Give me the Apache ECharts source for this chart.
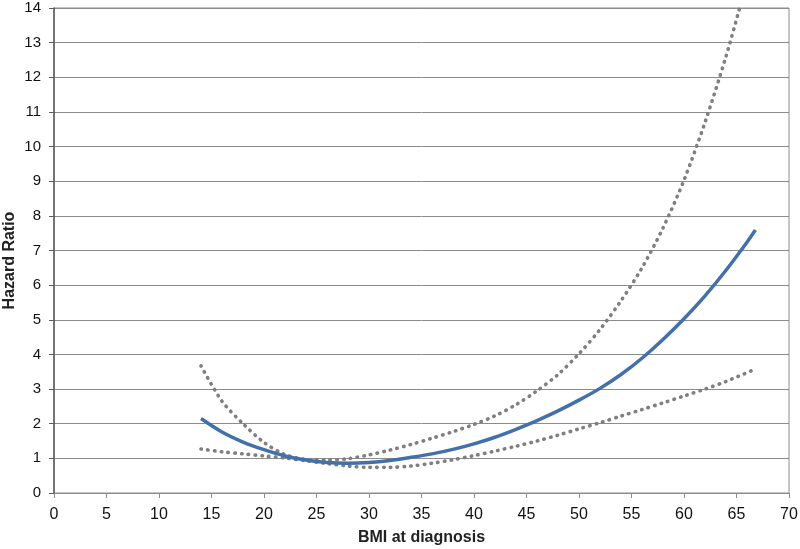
<!DOCTYPE html>
<html>
<head>
<meta charset="utf-8">
<script src="https://cdn.jsdelivr.net/npm/echarts@6/dist/echarts.min.js"></script>
<style>html,body{margin:0;padding:0;background:#fff}#c{width:800px;height:549px}</style>
</head>
<body>
<div id="c"></div>
<script>
// Hazard ratio (solid) by BMI
const bmiMain = [14,16,18,20,22,24,26,28,30,32,34,36,38,40,42,44,46,48,50,52,54,56,58,60,62,64,66,66.8];
const hrMain  = [2.15,1.76,1.47,1.25,1.07,0.95,0.88,0.86,0.88,0.94,1.03,1.13,1.26,1.42,1.61,1.84,2.09,2.37,2.68,3.02,3.42,3.89,4.43,5.03,5.69,6.43,7.24,7.59];
// Upper confidence bound (dotted)
const bmiUpper = [14,16,18,20,22,24,26,28,30,32,34,36,38,40,42,44,46,48,50,52,54,56,58,60,62,64,65.3];
const hrUpper  = [3.67,2.65,2.0,1.46,1.11,0.97,0.95,0.99,1.1,1.24,1.4,1.58,1.77,1.98,2.23,2.55,2.95,3.42,4.02,4.72,5.55,6.5,7.65,9.03,10.7,12.6,14.0];
// Lower confidence bound (dotted)
const bmiLower = [14,16,18,20,22,24,26,28,30,32,34,36,38,40,42,44,46,48,50,52,54,56,58,60,62,64,66.8];
const hrLower  = [1.27,1.19,1.13,1.07,1.01,0.93,0.85,0.78,0.74,0.74,0.78,0.86,0.96,1.08,1.21,1.35,1.5,1.67,1.85,2.03,2.22,2.41,2.6,2.8,3.0,3.22,3.58];
// Axis ticks
const xMin = 0, xMax = 70, xStep = 5;
const yMin = 0, yMax = 14, yStep = 1;

const pairs = (xs, ys) => xs.map((x, i) => [x, ys[i]]);
const font = 'Liberation Sans, Arial, sans-serif';
const chart = echarts.init(document.getElementById('c'), null, {renderer: 'canvas'});
const dotted = {color: '#7f7f7f', width: 3.6, type: [0.5, 6.3], cap: 'round'};
chart.setOption({
  animation: false,
  grid: {left: 54, right: 11, top: 8, bottom: 56, containLabel: false, outerBoundsMode: 'none',
         show: true, borderColor: '#8c8c8c', borderWidth: 1},
  xAxis: {
    type: 'value', min: xMin, max: xMax, interval: xStep,
    name: 'BMI at diagnosis', nameLocation: 'middle', nameGap: 37, nameMoveOverlap: false,
    nameTextStyle: {fontFamily: font, fontWeight: 'bold', fontSize: 16, color: '#222'},
    axisLine: {lineStyle: {color: '#8c8c8c', width: 1}},
    axisTick: {show: true, length: 5, lineStyle: {color: '#8c8c8c'}},
    axisLabel: {fontFamily: font, fontSize: 16, color: '#111', margin: 14},
    splitLine: {show: false}
  },
  yAxis: {
    type: 'value', min: yMin, max: yMax, interval: yStep,
    name: 'Hazard Ratio', nameLocation: 'middle', nameGap: 36, nameRotate: 90, nameMoveOverlap: false,
    nameTextStyle: {fontFamily: font, fontWeight: 'bold', fontSize: 16, color: '#222', padding: [0, 20, 0, 0]},
    axisLine: {show: true, lineStyle: {color: '#5a5a5a', width: 1.5}},
    axisTick: {show: true, length: 5, lineStyle: {color: '#5a5a5a'}},
    axisLabel: {fontFamily: font, fontSize: 15, color: '#111', margin: 13},
    splitLine: {show: true, lineStyle: {color: '#8c8c8c', width: 1}}
  },
  series: [
    {type: 'line', data: pairs(bmiUpper, hrUpper), smooth: 0.3, showSymbol: false, lineStyle: dotted, clip: true, z: 2},
    {type: 'line', data: pairs(bmiLower, hrLower), smooth: 0.3, showSymbol: false, lineStyle: dotted, clip: true, z: 2},
    {type: 'line', data: pairs(bmiMain, hrMain), smooth: 0.3, showSymbol: false, lineStyle: {color: '#4470aa', width: 3.5}, clip: true, z: 3}
  ]
});
</script>
</body>
</html>
